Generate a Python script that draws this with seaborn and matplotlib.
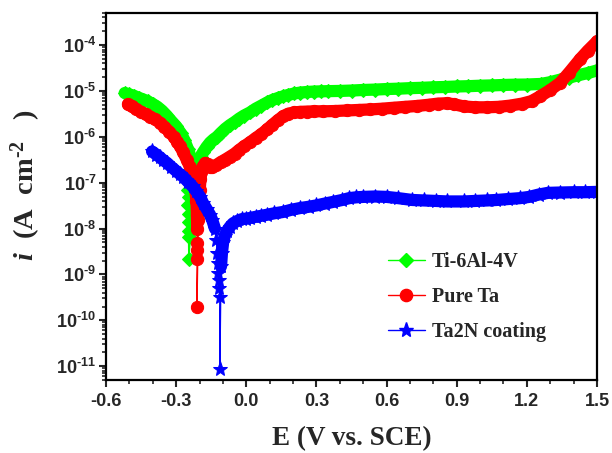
import numpy as np
import pandas as pd
import matplotlib
matplotlib.use("Agg")
import matplotlib.pyplot as plt
import seaborn as sns
from matplotlib.lines import Line2D
from matplotlib.ticker import MultipleLocator, LogLocator, FuncFormatter, NullFormatter, FixedLocator

# ---------------- data ----------------
series_names = ["Ti-6Al-4V", "Pure Ta", "Ta2N coating"]

# Ti-6Al-4V
ti_E_cath = [-0.52, -0.50, -0.48, -0.46, -0.44, -0.42, -0.40, -0.38, -0.36, -0.34, -0.32, -0.30,
             -0.28, -0.265, -0.25, -0.235, -0.225, -0.219]
ti_i_cath = [9.0e-6, 8.4e-6, 7.8e-6, 7.1e-6, 6.5e-6, 5.9e-6, 5.2e-6, 4.5e-6, 3.7e-6, 2.9e-6, 2.2e-6, 1.7e-6,
             1.2e-6, 8.5e-7, 5.5e-7, 3.3e-7, 2.0e-7, 1.35e-7]
ti_E_dip = [-0.243, -0.248, -0.244, -0.248, -0.245, -0.247, -0.245, -0.247, -0.246]
ti_i_dip = [1.0e-7, 7.0e-8, 4.8e-8, 3.2e-8, 2.1e-8, 1.4e-8, 9.0e-9, 6.5e-9, 2.2e-9]
ti_E_anod = [-0.215, -0.205, -0.195, -0.185, -0.17, -0.155, -0.14, -0.125, -0.11, -0.09,
             -0.07, -0.05, -0.03, -0.01, 0.016, 0.04, 0.065, 0.089, 0.11, 0.135,
             0.157, 0.18, 0.205, 0.23, 0.26, 0.29, 0.32, 0.35, 0.40, 0.45,
             0.50, 0.55, 0.60, 0.65, 0.70, 0.75, 0.80, 0.85, 0.90, 0.95,
             1.00, 1.05, 1.10, 1.15, 1.20, 1.26, 1.30, 1.34, 1.38, 1.42,
             1.46, 1.50]
ti_i_anod = [1.8e-7, 2.8e-7, 3.7e-7, 4.6e-7, 6.0e-7, 7.5e-7, 8.8e-7, 1.0e-6, 1.2e-6, 1.5e-6,
             1.8e-6, 2.1e-6, 2.5e-6, 2.9e-6, 3.4e-6, 4.1e-6, 4.8e-6, 5.6e-6, 6.3e-6, 7.0e-6,
             7.6e-6, 8.2e-6, 8.8e-6, 9.2e-6, 9.5e-6, 9.7e-6, 9.8e-6, 9.9e-6, 1.0e-5, 1.02e-5,
             1.05e-5, 1.07e-5, 1.1e-5, 1.12e-5, 1.15e-5, 1.17e-5, 1.2e-5, 1.22e-5, 1.25e-5, 1.27e-5,
             1.3e-5, 1.32e-5, 1.35e-5, 1.37e-5, 1.38e-5, 1.42e-5, 1.55e-5, 1.75e-5, 1.95e-5, 2.2e-5,
             2.45e-5, 2.8e-5]

# Pure Ta
ta_E_cath = [-0.506, -0.49, -0.47, -0.45, -0.43, -0.41, -0.39, -0.37, -0.35, -0.33, -0.31,
             -0.295, -0.283, -0.27, -0.255, -0.241, -0.23, -0.219, -0.213, -0.211, -0.210]
ta_i_cath = [5.1e-6, 4.6e-6, 4.0e-6, 3.5e-6, 3.1e-6, 2.75e-6, 2.4e-6, 2.05e-6, 1.65e-6, 1.3e-6, 1.0e-6,
             7.8e-7, 6.2e-7, 4.6e-7, 3.2e-7, 2.2e-7, 1.3e-7, 7.5e-8, 4.0e-8, 2.0e-8, 1.0e-8]
ta_E_dip = [-0.210, -0.211, -0.210, -0.211]
ta_i_dip = [4.8e-9, 3.4e-9, 2.2e-9, 2.0e-10]
ta_E_anod = [-0.205, -0.202, -0.199, -0.196, -0.192, -0.185, -0.175, -0.165, -0.155, -0.145,
             -0.13, -0.11, -0.09, -0.07, -0.05, -0.03, -0.01, 0.016, 0.04, 0.065,
             0.089, 0.11, 0.135, 0.157, 0.18, 0.205, 0.23, 0.26, 0.29, 0.33,
             0.38, 0.43, 0.48, 0.53, 0.58, 0.63, 0.68, 0.73, 0.78, 0.82,
             0.86, 0.89, 0.93, 0.98, 1.03, 1.08, 1.13, 1.18, 1.22, 1.256,
             1.30, 1.342, 1.38, 1.427, 1.46, 1.50]
ta_i_anod = [1.5e-8, 3.5e-8, 7e-8, 1.2e-7, 1.7e-7, 2.3e-7, 2.7e-7, 2.5e-7, 2.2e-7, 2.2e-7,
             2.4e-7, 2.8e-7, 3.2e-7, 3.7e-7, 4.3e-7, 5.2e-7, 6.2e-7, 7.6e-7, 9.4e-7, 1.15e-6,
             1.45e-6, 1.8e-6, 2.3e-6, 2.8e-6, 3.2e-6, 3.4e-6, 3.5e-6, 3.55e-6, 3.6e-6, 3.6e-6,
             3.65e-6, 3.75e-6, 3.85e-6, 3.95e-6, 4.1e-6, 4.3e-6, 4.5e-6, 4.7e-6, 5.0e-6, 5.3e-6,
             5.4e-6, 5.1e-6, 4.6e-6, 4.4e-6, 4.4e-6, 4.5e-6, 4.8e-6, 5.3e-6, 6.0e-6, 7.6e-6,
             1.05e-5, 1.5e-5, 2.5e-5, 4.9e-5, 7.5e-5, 1.2e-4]

# Ta2N coating
tn_E_cath = [-0.403, -0.385, -0.37, -0.355, -0.339, -0.32, -0.30, -0.285, -0.27, -0.25,
             -0.23, -0.215, -0.198, -0.185, -0.17, -0.155, -0.145, -0.134]
tn_i_cath = [4.8e-7, 4.1e-7, 3.6e-7, 3.1e-7, 2.7e-7, 2.2e-7, 1.8e-7, 1.55e-7, 1.35e-7, 1.05e-7,
             8.3e-8, 6.6e-8, 5.0e-8, 3.6e-8, 2.7e-8, 2.0e-8, 1.5e-8, 1.0e-8]
tn_E_dip = [-0.128, -0.124, -0.121, -0.119, -0.117, -0.115, -0.113, -0.113]
tn_i_dip = [5.5e-9, 3.0e-9, 1.8e-9, 1.1e-9, 7.5e-10, 5e-10, 3.2e-10, 8.7e-12]
tn_E_anod = [-0.108, -0.104, -0.099, -0.092, -0.082, -0.07, -0.057, -0.04, -0.02, 0.0,
             0.016, 0.04, 0.065, 0.089, 0.12, 0.157, 0.19, 0.23, 0.27, 0.30,
             0.335, 0.37, 0.41, 0.44, 0.47, 0.50, 0.55, 0.60, 0.65, 0.71,
             0.76, 0.81, 0.86, 0.93, 0.98, 1.03, 1.07, 1.12, 1.17, 1.21,
             1.25, 1.29, 1.34, 1.40, 1.45, 1.50]
tn_i_anod = [1.5e-9, 3e-9, 5e-9, 7e-9, 9e-9, 1.1e-8, 1.3e-8, 1.45e-8, 1.6e-8, 1.65e-8,
             1.7e-8, 1.8e-8, 1.9e-8, 2.0e-8, 2.15e-8, 2.3e-8, 2.55e-8, 2.8e-8, 3.0e-8, 3.2e-8,
             3.5e-8, 3.8e-8, 4.2e-8, 4.6e-8, 4.8e-8, 4.9e-8, 5.0e-8, 4.9e-8, 4.6e-8, 4.2e-8,
             4.1e-8, 4.0e-8, 3.9e-8, 3.9e-8, 4.0e-8, 4.1e-8, 4.2e-8, 4.4e-8, 4.6e-8, 4.9e-8,
             5.5e-8, 6.0e-8, 6.1e-8, 6.2e-8, 6.2e-8, 6.3e-8]

x_ticks = [-0.6, -0.3, 0.0, 0.3, 0.6, 0.9, 1.2, 1.5]
x_tick_labels = ["-0.6", "-0.3", "0.0", "0.3", "0.6", "0.9", "1.2", "1.5"]
y_tick_exps = [-11, -10, -9, -8, -7, -6, -5, -4]

# ---------------- style ----------------
sns.set_style("ticks")
plt.rcParams["font.family"] = ["Liberation Serif", "DejaVu Sans"]
plt.rcParams["font.weight"] = "bold"
plt.rcParams["mathtext.fontset"] = "custom"
plt.rcParams["mathtext.rm"] = "Liberation Serif:bold"
plt.rcParams["mathtext.bf"] = "Liberation Serif:bold"
plt.rcParams["mathtext.it"] = "Liberation Serif:italic:bold"
plt.rcParams["mathtext.sf"] = "Liberation Sans:bold"

fig = plt.figure(figsize=(6.12, 4.53), dpi=100)
ax = fig.add_axes([106 / 612, 1 - 380 / 453, (597 - 106) / 612, (380 - 13) / 453])
ax.set_yscale("log")

green, red, blue = "#00FF00", "#FF0000", "#0000FF"
specs = [
    (ti_E_cath, ti_i_cath, ti_E_dip, ti_i_dip, ti_E_anod, ti_i_anod, green, "D", 6.8),
    (ta_E_cath, ta_i_cath, ta_E_dip, ta_i_dip, ta_E_anod, ta_i_anod, red, "o", 8.8),
    (tn_E_cath, tn_i_cath, tn_E_dip, tn_i_dip, tn_E_anod, tn_i_anod, blue, "*", 11),
]
band_w = 8.8
for (Ec, ic, Ed, idp, Ea, ia, col, mk, ms) in specs:
    # thick continuous band for the densely measured parts
    for Eseg, iseg in ((Ec, ic), (Ea, ia)):
        sns.lineplot(x=Eseg, y=iseg, sort=False, estimator=None, color=col, lw=band_w,
                     solid_capstyle="round", solid_joinstyle="round", ax=ax, legend=False)
    df = pd.DataFrame({"E": list(Ec) + list(Ed) + list(Ea),
                       "i": list(ic) + list(idp) + list(ia)})
    sns.lineplot(data=df, x="E", y="i", sort=False, estimator=None, color=col, lw=1.0,
                 marker=mk, markersize=ms, markeredgecolor=col, markerfacecolor=col,
                 ax=ax, legend=False)

ax.set_xlim(-0.6, 1.5)
ax.set_ylim(5e-12, 5e-4)

ax.xaxis.set_major_locator(FixedLocator(x_ticks))
ax.set_xticklabels(x_tick_labels)
ax.xaxis.set_minor_locator(MultipleLocator(0.1))
ax.yaxis.set_major_locator(FixedLocator([10.0 ** e for e in y_tick_exps]))
ax.yaxis.set_major_formatter(FuncFormatter(
    lambda v, p: "$\\mathsf{10^{\u2010%d}}$" % abs(int(round(np.log10(v))))))
ax.yaxis.set_minor_locator(LogLocator(base=10, subs=np.arange(2, 10), numticks=40))
ax.yaxis.set_minor_formatter(NullFormatter())

for lab in ax.get_xticklabels():
    lab.set_fontfamily("Liberation Sans")
    lab.set_fontweight("bold")
    lab.set_fontsize(13)
ax.tick_params(axis="y", labelsize=13)
ax.tick_params(which="major", direction="out", length=5, width=1.5, top=False, right=False)
ax.tick_params(which="minor", direction="out", length=3, width=1.2, top=False, right=False)
ax.tick_params(axis="x", pad=4)
ax.tick_params(axis="y", pad=2)

for s in ax.spines.values():
    s.set_linewidth(1.6)
    s.set_color("black")

ax.set_xlabel("E (V vs. SCE)", fontsize=19.5, fontweight="bold", fontfamily="Liberation Serif", labelpad=12)
ax.set_ylabel("$i$  (A  cm$^{\u20102}$   )", fontsize=20.5, fontweight="bold",
              fontfamily="Liberation Serif")
ax.yaxis.set_label_coords(-0.128, 0.53)

handles = [Line2D([], [], color=c, lw=1.0, marker=m, markersize=s, markeredgecolor=c, markerfacecolor=c)
           for c, m, s in ((green, "D", 6.8), (red, "o", 8.8), (blue, "*", 11))]
leg = ax.legend(handles, series_names, loc="center left", bbox_to_anchor=(0.574, 0.226),
                frameon=False, handlelength=1.85, handletextpad=0.35,
                labelspacing=0.75, borderpad=0, borderaxespad=0,
                prop={"family": "Liberation Serif", "weight": "bold", "size": 14.5})

fig.savefig("out.png", dpi=100)
